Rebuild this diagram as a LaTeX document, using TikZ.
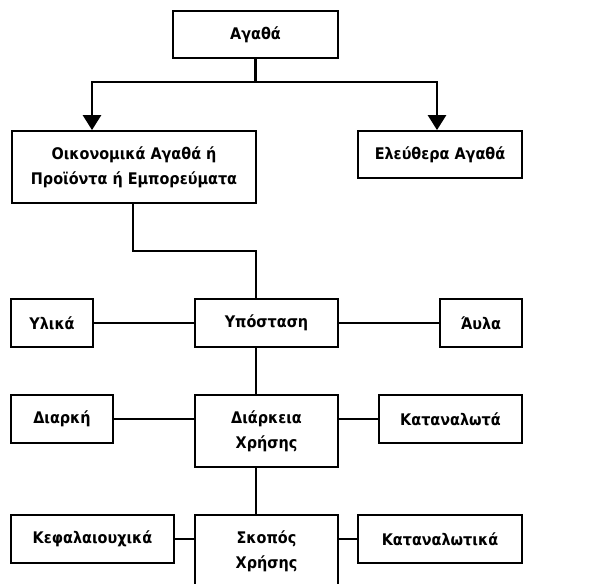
\documentclass[tikz,border=0pt]{standalone}
\usepackage{fontspec}
\setmainfont{DejaVu Sans Condensed}
\usetikzlibrary{arrows.meta}
\begin{document}
\begin{tikzpicture}[x=1pt,y=-1pt,
  box/.style={draw, line width=1.8pt, inner sep=0pt, align=center,
    font=\bfseries\fontsize{16}{25}\selectfont},
  link/.style={line width=1.3pt},
  arr/.style={line width=2.6pt, -{Triangle[width=18pt,length=15pt]}}]
\useasboundingbox (0,0) rectangle (614,584);
\clip (0,0) rectangle (614,584);
\node[box, minimum width=165pt, minimum height=47pt] (top) at (255.5,34.5) {Αγαθά};
\node[box, minimum width=244pt, minimum height=72pt] (econ) at (134,167) {Οικονομικά Αγαθά ή\\Προϊόντα ή Εμπορεύματα};
\node[box, minimum width=164pt, minimum height=47pt] (free) at (440,154.5) {Ελεύθερα Αγαθά};
\node[box, minimum width=82pt, minimum height=48pt] (yl) at (52,323) {Υλικά};
\node[box, minimum width=143pt, minimum height=48pt] (yp) at (266.5,323) {Υπόσταση};
\node[box, minimum width=82pt, minimum height=48pt] (avla) at (481,323) {Άυλα};
\node[box, minimum width=102pt, minimum height=48pt] (diarki) at (62,419) {Διαρκή};
\node[box, minimum width=143pt, minimum height=72pt] (diarkeia) at (266.5,431) {Διάρκεια\\Χρήσης};
\node[box, minimum width=143pt, minimum height=48pt] (katan) at (450.5,419) {Καταναλωτά};
\node[box, minimum width=163pt, minimum height=48pt] (kef) at (92.5,539) {Κεφαλαιουχικά};
\node[box, minimum width=143pt, minimum height=72pt] (skopos) at (266.5,551) {Σκοπός\\Χρήσης};
\node[box, minimum width=164pt, minimum height=48pt] (katank) at (440,539) {Καταναλωτικά};
\coordinate (jL) at (92,82);
\coordinate (jR) at (437,82);
\coordinate (e1) at (133,251);
\coordinate (e2) at (256,251);
\draw[arr] (top.south) |- (jL) -- (jL |- econ.north);
\draw[arr] (top.south) |- (jR) -- (jR |- free.north);
\draw[link] (e1 |- econ.south) -- (e1) -- (e2) -- (e2 |- yp.north);
\draw[link] (yl) -- (yp);
\draw[link] (yp) -- (avla);
\draw[link] (e2 |- yp.south) -- (e2 |- diarkeia.north);
\draw[link] (diarki.east) -- (diarki.east -| diarkeia.west);
\draw[link] (katan.west) -- (katan.west -| diarkeia.east);
\draw[link] (e2 |- diarkeia.south) -- (e2 |- skopos.north);
\draw[link] (kef.east) -- (kef.east -| skopos.west);
\draw[link] (katank.west) -- (katank.west -| skopos.east);
\end{tikzpicture}
\end{document}
